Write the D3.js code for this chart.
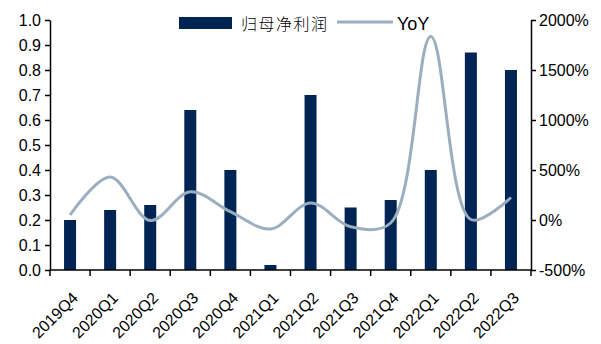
<!DOCTYPE html>
<html>
<head>
<meta charset="utf-8">
<script src="https://cdn.jsdelivr.net/npm/d3@7"></script>
<style>
  body { margin: 0; background: #fff; }
  svg text { font-family: "Liberation Sans", Arial, sans-serif; fill: #000; }
  .axis path, .axis line { stroke: #000; stroke-width: 1.5; }
  .legend-cn { font-family: "Noto Sans CJK SC", sans-serif; font-weight: 300; }
</style>
</head>
<body>
<svg id="chart" width="601" height="344"></svg>
<script>
const quarters = ['2019Q4', '2020Q1', '2020Q2', '2020Q3', '2020Q4', '2021Q1',
                  '2021Q2', '2021Q3', '2021Q4', '2022Q1', '2022Q2', '2022Q3']
const profit = [0.20, 0.24, 0.26, 0.64, 0.40, 0.02, 0.70, 0.25, 0.28, 0.40, 0.87, 0.80]
const yoy = [50, 430, -5, 283, 83, -90, 170, -67, -30, 1835, 5, 225]
const leftTicks = [0, 0.1, 0.2, 0.3, 0.4, 0.5, 0.6, 0.7, 0.8, 0.9, 1.0]
const rightTicks = [-500, 0, 500, 1000, 1500, 2000]

const svg = d3.select('#chart')
const DIM = { left: 50, right: 531, top: 20, bottom: 270 }

const x = d3.scaleBand().domain(quarters).range([DIM.left, DIM.right])
const yL = d3.scaleLinear().domain([0, 1]).range([DIM.bottom, DIM.top])
const yR = d3.scaleLinear().domain([-500, 2000]).range([DIM.bottom, DIM.top])

// bars
svg.selectAll('.bar')
    .data(quarters)
    .join('rect')
    .attr('class', 'bar')
    .attr('x', d => x(d) + x.bandwidth() / 2 - 6)
    .attr('y', (d, i) => yL(profit[i]))
    .attr('width', 12)
    .attr('height', (d, i) => yL(0) - yL(profit[i]))
    .attr('fill', '#002554')

// yoy line
const line = d3.line()
    .x((d, i) => x(quarters[i]) + x.bandwidth() / 2)
    .y(d => yR(d))
    .curve(d3.curveCatmullRom.alpha(0.5))
svg.append('path')
    .datum(yoy)
    .attr('d', line)
    .attr('fill', 'none')
    .attr('stroke', '#9AAEC0')
    .attr('stroke-width', 3)

// left axis
const leftAxis = svg.append('g')
    .attr('class', 'axis')
    .attr('transform', `translate(${DIM.left},0)`)
    .call(d3.axisLeft(yL).tickValues(leftTicks).tickFormat(d3.format('.1f')).tickSize(5).tickSizeOuter(0))
leftAxis.selectAll('text').style('font-size', '16px').attr('dx', '-1')

// right axis
const rightAxis = svg.append('g')
    .attr('class', 'axis')
    .attr('transform', `translate(${DIM.right},0)`)
    .call(d3.axisRight(yR).tickValues(rightTicks).tickFormat(d => d + '%').tickSize(5).tickSizeOuter(0))
rightAxis.selectAll('text').style('font-size', '16px')

// x axis with ticks at category boundaries
const xAxis = svg.append('g')
    .attr('class', 'axis')
    .attr('transform', `translate(0,${DIM.bottom})`)
xAxis.append('line')
    .attr('x1', DIM.left).attr('x2', DIM.right)
    .attr('y1', 0).attr('y2', 0)
xAxis.selectAll('.xtick')
    .data(quarters.concat(['end']))
    .join('line')
    .attr('class', 'xtick')
    .attr('x1', (d, i) => DIM.left + i * x.step())
    .attr('x2', (d, i) => DIM.left + i * x.step())
    .attr('y1', 0).attr('y2', 6)
xAxis.selectAll('.xlabel')
    .data(quarters)
    .join('text')
    .attr('class', 'xlabel')
    .attr('text-anchor', 'end')
    .style('font-size', '16px')
    .attr('transform', d => `translate(${x(d) + x.bandwidth() / 2 + 9},${29}) rotate(-45)`)
    .text(d => d)

// legend
const legend = svg.append('g')
legend.append('rect')
    .attr('x', 179).attr('y', 17).attr('width', 53).attr('height', 12)
    .attr('fill', '#002554')
legend.append('text')
    .attr('class', 'legend-cn')
    .attr('x', 241).attr('y', 30)
    .style('font-size', '16px')
    .style('letter-spacing', '1.5px')
    .text('归母净利润')
legend.append('line')
    .attr('x1', 337).attr('x2', 393).attr('y1', 22).attr('y2', 22)
    .attr('stroke', '#9AAEC0').attr('stroke-width', 3)
legend.append('text')
    .attr('x', 397).attr('y', 30)
    .style('font-size', '18px')
    .text('YoY')
</script>
</body>
</html>
